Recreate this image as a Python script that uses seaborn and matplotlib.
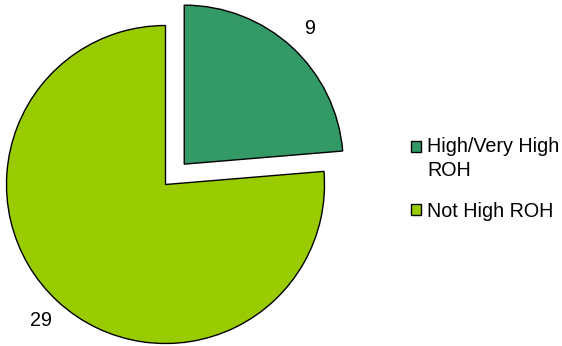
import matplotlib
matplotlib.use("Agg")
import matplotlib.pyplot as plt
import seaborn as sns

categories = ["High/Very High\nROH", "Not High ROH"]
values = [9, 29]
value_labels = ["9", "29"]
colors = ["#339966", "#99CC00"]

sns.set_style("white")
plt.rcParams["font.family"] = ["Liberation Sans", "DejaVu Sans"]
plt.rcParams["text.color"] = "black"

W, H = 562, 346
RADIUS = 159
explode = [0.174 * RADIUS, 0.0]

fig = plt.figure(figsize=(W / 100, H / 100), dpi=100)
ax = fig.add_axes([0, 0, 1, 1])

wedges, texts = ax.pie(
    values,
    labels=value_labels,
    colors=colors,
    explode=explode,
    startangle=90,
    counterclock=False,
    center=(165.5, H - 184.5),
    radius=RADIUS,
    labeldistance=1.16,
    wedgeprops=dict(edgecolor="black", linewidth=1.0),
    textprops=dict(fontsize=14.2, color="black"),
    frame=True,
)
ax.set_xlim(0, W)
ax.set_ylim(0, H)
ax.axis("off")
for t in texts:
    t.set_ha("center")
    t.set_va("center")

leg = ax.legend(
    wedges,
    categories,
    loc="center left",
    bbox_to_anchor=(411 / W, (H - 179) / H),
    frameon=False,
    fontsize=14.2,
    handlelength=0.52,
    handleheight=0.52,
    handletextpad=0.3,
    borderpad=0,
    borderaxespad=0,
    labelspacing=1.1,
    labelcolor="black",
)
for t in leg.get_texts():
    t.set_linespacing(1.3)
h0 = leg.legend_handles[0]
h0.set_y(h0.get_y() + 9.0)
for h in leg.legend_handles:
    h.set_linewidth(1.0)
    h.set_edgecolor("black")

fig.savefig("out.png", dpi=100)
